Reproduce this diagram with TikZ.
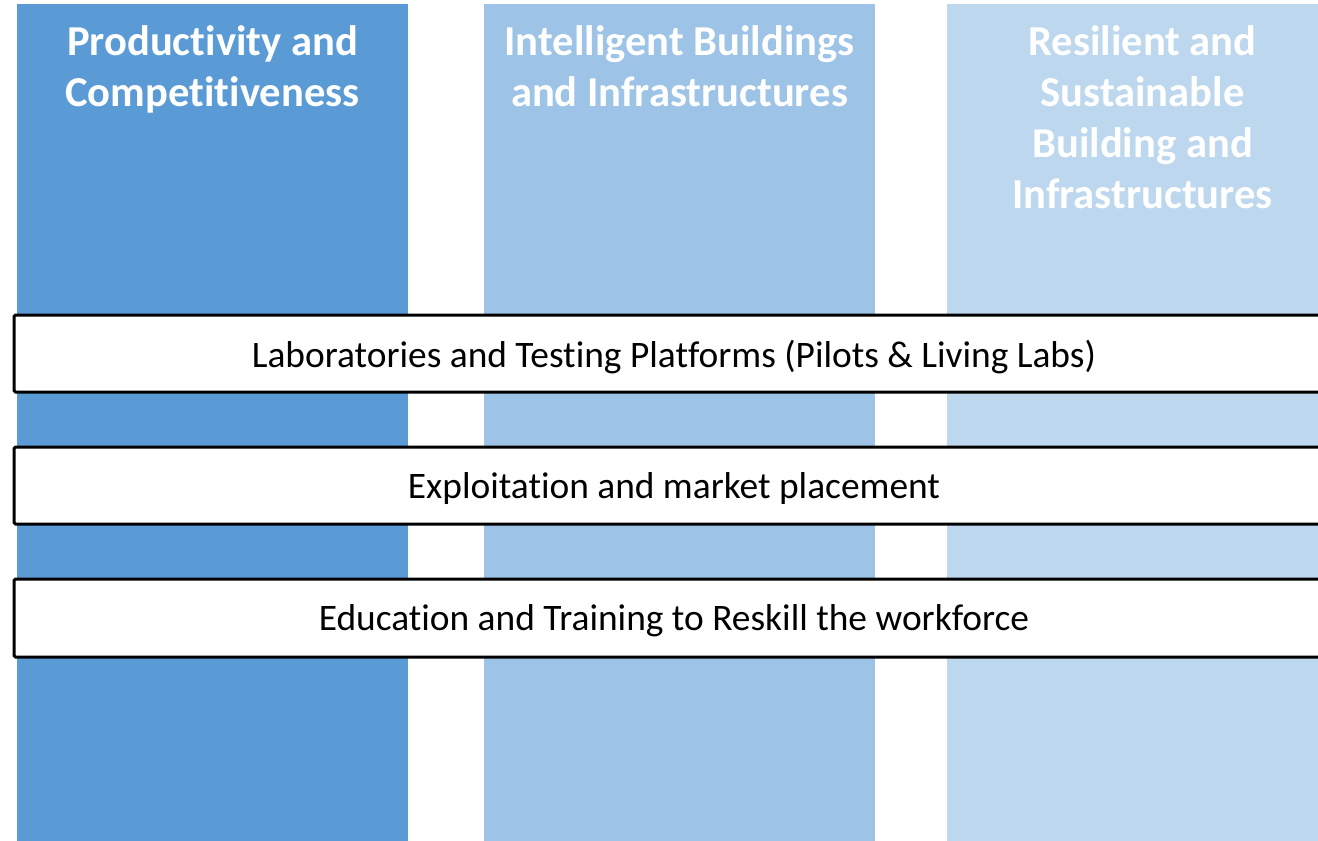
\documentclass[tikz,border=0pt]{standalone}
\usepackage{fontspec}
\setmainfont[Ligatures=NoCommon]{Carlito}
\definecolor{colA}{HTML}{5B9BD5}
\definecolor{colB}{HTML}{9DC3E6}
\definecolor{colC}{HTML}{BDD7EE}
\tikzset{
  headtext/.style={text=white, font=\bfseries\fontsize{42.6}{51}\selectfont, align=center, anchor=north, inner sep=0pt},
  band/.style={draw=black, line width=3pt, fill=white, rounded corners=1.5pt},
  bandtext/.style={font=\fontsize{37.4}{44}\selectfont, inner sep=0pt, anchor=center}
}
\begin{document}
\begin{tikzpicture}[x=1pt,y=-1pt]
\useasboundingbox (0,0) rectangle (1318,841);
\clip (0,0) rectangle (1318,841);
\fill[colA] (17,4) rectangle (408,845);
\fill[colB] (484,4) rectangle (875,845);
\fill[colC] (947,4) rectangle (1338,845);
\node[headtext] (h1) at (212.5,25) {Productivity and\\Competitiveness};
\node[headtext] (h2) at (679.5,25) {Intelligent Buildings\\and Infrastructures};
\node[headtext] (h3) at (1142.5,25) {Resilient and\\Sustainable\\Building and\\Infrastructures};
\draw[band] (14,315) rectangle (1340,392);
\draw[band] (14,447) rectangle (1340,524);
\draw[band] (14,579) rectangle (1340,657);
\node[bandtext] (b1) at (674,357) {Laboratories and Testing Platforms (Pilots \& Living Labs)};
\node[bandtext] (b2) at (674,489) {Exploitation and market placement};
\node[bandtext] (b3) at (674,621) {Education and Training to Reskill the workforce};
\end{tikzpicture}
\end{document}
